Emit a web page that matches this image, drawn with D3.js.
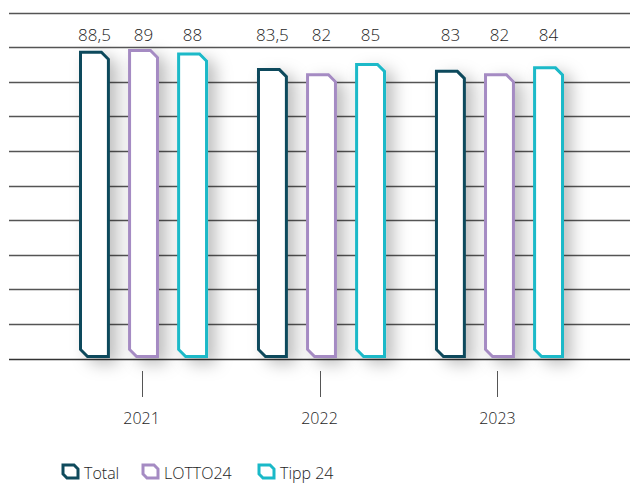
<!DOCTYPE html>
<html>
<head>
<meta charset="utf-8">
<script src="https://cdn.jsdelivr.net/npm/d3@7"></script>
<style>
  html, body { margin: 0; padding: 0; background: #fff; }
  svg { display: block; font-family: "Open Sans", "Noto Sans", sans-serif; font-weight: 300; }
</style>
</head>
<body>
<svg id="chart" width="630" height="483"></svg>
<script>
// Years shown along the axis
const years = ["2021", "2022", "2023"];
// Series names and their outline colours
const seriesNames = ["Total", "LOTTO24", "Tipp 24"];
const seriesColors = ["#0f4a5c", "#a58bc3", "#1ab9c8"];
// Values per series, one per year
const totalValues = [88.5, 83.5, 83];
const lottoValues = [89, 82, 82];
const tippValues = [88, 85, 84];
// Gridline values
const gridTicks = [0, 10, 20, 30, 40, 50, 60, 70, 80, 90, 100];

const seriesValues = [totalValues, lottoValues, tippValues];
const fmt = v => String(v).replace(".", ",");
const textColor = "#1e1e1e";

const svg = d3.select("#chart");

// Soft drop shadow behind the bars
const defs = svg.append("defs");
const f = defs.append("filter").attr("id", "shadow")
  .attr("x", "-60%").attr("y", "-20%").attr("width", "260%").attr("height", "150%");
f.append("feDropShadow").attr("dx", 8).attr("dy", 6).attr("stdDeviation", 8)
  .attr("flood-color", "#000").attr("flood-opacity", 0.25);

const y = d3.scaleLinear().domain([0, 100]).range([358.5, 12.5]);
const x0 = d3.scaleBand().domain(years).range([79, 564]).paddingInner(0.275).paddingOuter(0);
const x1 = d3.scaleBand().domain(seriesNames).range([0, x0.bandwidth()]).paddingInner(0.37).paddingOuter(0);

// Horizontal gridlines
svg.append("g").selectAll("line").data(gridTicks).join("line")
  .attr("x1", 9).attr("x2", 630)
  .attr("y1", d => Math.round(y(d)) + 0.5).attr("y2", d => Math.round(y(d)) + 0.5)
  .attr("stroke", d => d === 0 ? "#333" : "#555")
  .attr("stroke-width", d => d === 0 ? 1.6 : 1.3);

// Bar outline with chamfered top-right and bottom-left corners
function barPath(xl, xr, yt, yb, c) {
  return `M${xl},${yt}L${xr - c},${yt}L${xr},${yt + c}L${xr},${yb}L${xl + c},${yb}L${xl},${yb - c}Z`;
}

const c = 7;
const baseline = y(0) - 2;
const groups = svg.append("g").selectAll("g").data(years).join("g")
  .attr("transform", d => `translate(${x0(d)},0)`);

groups.each(function (year, yi) {
  const g = d3.select(this);
  seriesNames.forEach((name, si) => {
    const v = seriesValues[si][yi];
    const xl = x1(name) + 1.5, xr = x1(name) + x1.bandwidth() - 1.5;
    g.append("path")
      .attr("d", barPath(xl, xr, y(v), baseline, c))
      .attr("fill", "#fff")
      .attr("stroke", seriesColors[si])
      .attr("stroke-width", 3)
      .attr("stroke-linejoin", "miter")
      .attr("filter", "url(#shadow)");
    g.append("text")
      .attr("x", x1(name) + x1.bandwidth() / 2)
      .attr("y", 41)
      .attr("text-anchor", "middle")
      .attr("font-size", 17)
      .attr("fill", textColor)
      .text(fmt(v));
  });
});

// Year ticks and labels
const axis = svg.append("g");
axis.selectAll("line").data(years).join("line")
  .attr("x1", d => Math.round(x0(d) + x0.bandwidth() / 2 - 2) + 0.5)
  .attr("x2", d => Math.round(x0(d) + x0.bandwidth() / 2 - 2) + 0.5)
  .attr("y1", 371).attr("y2", 397)
  .attr("stroke", "#555").attr("stroke-width", 1);
axis.selectAll("text").data(years).join("text")
  .attr("x", d => x0(d) + x0.bandwidth() / 2 - 2)
  .attr("y", 424)
  .attr("text-anchor", "middle")
  .attr("font-size", 16)
  .attr("fill", textColor)
  .text(d => d);

// Legend
const legendX = [63, 143, 259];
const legend = svg.append("g").selectAll("g").data(seriesNames).join("g")
  .attr("transform", (d, i) => `translate(${legendX[i]},465)`);
legend.append("path")
  .attr("d", barPath(0, 15, 0, 13, 4))
  .attr("fill", "#fff")
  .attr("stroke", (d, i) => seriesColors[i])
  .attr("stroke-width", 3);
legend.append("text")
  .attr("x", 21).attr("y", 14)
  .attr("font-size", 16)
  .attr("fill", textColor)
  .text(d => d);
</script>
</body>
</html>
